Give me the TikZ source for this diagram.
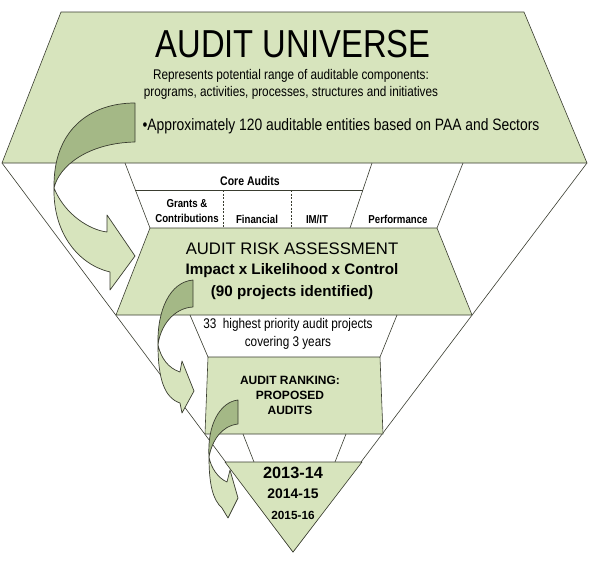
\documentclass[tikz,border=0pt]{standalone}
\usepackage{fontspec}
\setmainfont{Liberation Sans}
\newfontfamily\narrowfont[FakeStretch=0.84]{Liberation Sans}
\definecolor{leaf}{HTML}{D7E4BD}
\definecolor{leafdark}{HTML}{A4B886}
\definecolor{edge}{HTML}{3A3D30}
\tikzset{
  layer/.style={fill=leaf,draw=edge,line width=.6pt,line join=round},
  rim/.style={draw=edge,line width=.6pt},
  back/.style={fill=leafdark,draw=edge,line width=.7pt,line join=round},
  front/.style={fill=leaf,draw=edge,line width=.7pt,line join=round},
  label/.style={inner sep=0pt,align=center}
}
\begin{document}
\begin{tikzpicture}[x=1pt,y=-1pt]
\fill[white] (0,0) rectangle (590,568);
\useasboundingbox (0,0) rectangle (590,568);
% outer funnel
\coordinate (apex) at (293,552);
\draw[rim] (2,163) -- (apex) -- (587,163);
% audit universe
\draw[layer] (61,12) -- (524,12) -- (587,163) -- (2,163) -- cycle;
% core audits band
\draw[rim] (125,163) -- (150,228);\draw[rim] (135,190) -- (363,190);
\draw[rim] (372,163) -- (350,228);\draw[rim] (463,163) -- (437,228);
\foreach \x in {223,291}\draw[rim,dash pattern=on 2pt off 1.5pt] (\x,190) -- (\x,228);
% risk assessment
\draw[layer] (150,228) -- (437,228) -- (472,315) -- (116,315) -- cycle;
\draw[rim] (190,315) -- (208,357);\draw[rim] (397,315) -- (380,357);
% ranking
\draw[layer] (208,357) -- (380,357) -- (383,434) -- (205,434) -- cycle;
\draw[rim] (243,434) -- (254,462);\draw[rim] (346,434) -- (335,462);
% years
\draw[layer] (225,462) -- (362,462) -- (apex) -- cycle;
% texts
\node[label,font=\narrowfont\fontsize{39}{42}\selectfont] (universe) at (293,44) {AUDIT UNIVERSE};
\node[label,font=\narrowfont\fontsize{14}{17}\selectfont] (scope) at (291,84) {Represents potential range of auditable components:\\programs, activities, processes, structures and initiatives};
\node[label,font=\narrowfont\fontsize{16.5}{19}\selectfont] (entities) at (341,126) {•Approximately 120 auditable entities based on PAA and Sectors};
\node[label,font=\narrowfont\bfseries\fontsize{12.5}{14}\selectfont] (core) at (250,181) {Core Audits};
\node[label,font=\narrowfont\bfseries\fontsize{11.5}{15}\selectfont] (grants) at (187,211) {Grants \&\\Contributions};
\node[label,font=\narrowfont\bfseries\fontsize{11.5}{14}\selectfont] (financial) at (257,219) {Financial};
\node[label,font=\narrowfont\bfseries\fontsize{11.5}{14}\selectfont] (imit) at (317,219) {IM/IT};
\node[label,font=\narrowfont\bfseries\fontsize{11.5}{14}\selectfont] (performance) at (398,219) {Performance};
\node[label,font=\fontsize{16.7}{19}\selectfont] (riskhead) at (292,249) {AUDIT RISK ASSESSMENT};
\node[label,font=\bfseries\fontsize{15.2}{18}\selectfont] (riskrule) at (292,271) {Impact x Likelihood x Control};
\node[label,font=\bfseries\fontsize{15.2}{18}\selectfont] (riskcount) at (292,293) {(90 projects identified)};
\node[label,font=\narrowfont\fontsize{14}{18}\selectfont] (priority) at (288,334) {33\ \ highest priority audit projects\\covering 3 years};
\node[label,font=\bfseries\fontsize{12}{15}\selectfont] (ranking) at (290,395) {AUDIT RANKING:\\PROPOSED\\AUDITS};
\node[label,font=\bfseries\fontsize{16.3}{18}\selectfont] (yearone) at (293,473) {2013-14};
\node[label,font=\bfseries\fontsize{13.9}{16}\selectfont] (yeartwo) at (293,494) {2014-15};
\node[label,font=\bfseries\fontsize{11.8}{14}\selectfont] (yearthree) at (293,515) {2015-16};
% curved arrows
\draw[back] (135,103) .. controls (90,103) and (53,130) .. (54,188) .. controls (59,166) and (88,143) .. (135,142) -- cycle;
\draw[front] (54,188) .. controls (53,235) and (80,265) .. (110,272) -- (110,290) -- (135,256) -- (107,215) -- (107,232) .. controls (90,230) and (65,215) .. (54,188) -- cycle;
\draw[back] (193,280) .. controls (170,282) and (157,310) .. (158,345) .. controls (160,327) and (173,308) .. (193,307) -- cycle;
\draw[front] (158,345) .. controls (158,380) and (165,398) .. (180,403) -- (182,413) -- (194,391) -- (182,361) -- (180,372) .. controls (168,368) and (161,358) .. (158,345) -- cycle;
\draw[back] (238,400) .. controls (220,402) and (207,425) .. (209,457) .. controls (212,441) and (221,426) .. (238,424) -- cycle;
\draw[front] (209,457) .. controls (209,485) and (213,500) .. (222,508) -- (228,518) -- (238,498) -- (230,470) -- (227,482) .. controls (218,478) and (211,468) .. (209,457) -- cycle;
\end{tikzpicture}
\end{document}
